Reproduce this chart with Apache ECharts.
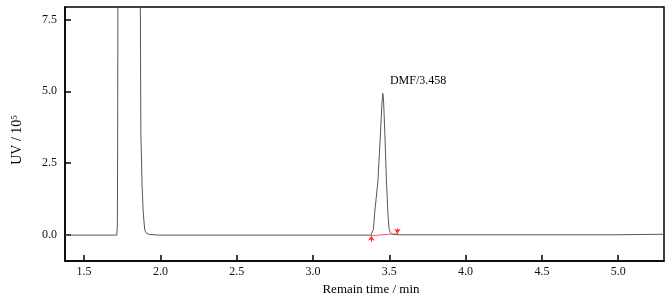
<!DOCTYPE html>
<html>
<head>
<meta charset="utf-8">
<script src="https://cdn.jsdelivr.net/npm/echarts@6/dist/echarts.min.js"></script>
<style>html,body{margin:0;padding:0;background:#fff}#c{width:671px;height:302px}</style>
</head>
<body>
<div id="c"></div>
<script>
// Chromatogram trace: retention time (min) and UV signal (x10^5)
const timeMin = [1.375, 1.70, 1.714, 1.718, 1.720, 1.722, 1.75, 1.80, 1.85, 1.868, 1.872, 1.880, 1.887, 1.892, 1.898, 1.910, 1.930, 2.00, 2.40, 2.80, 3.20, 3.380, 3.389, 3.396, 3.404, 3.426, 3.443, 3.452, 3.458, 3.463, 3.470, 3.481, 3.491, 3.498, 3.507, 3.524, 3.60, 4.00, 4.50, 4.98, 4.985, 5.30];
const uvSignal = [0.00, 0.00, 0.00, 0.30, 3.20, 9.00, 16.0, 20.0, 16.0, 9.00, 3.60, 1.75, 0.87, 0.50, 0.17, 0.06, 0.02, 0.00, 0.00, 0.00, 0.00, 0.00, 0.00, 0.20, 0.76, 1.91, 3.65, 4.60, 4.93, 4.60, 3.65, 1.91, 0.76, 0.24, 0.08, 0.02, 0.01, 0.01, 0.01, 0.01, 0.03, 0.03];
// Integration baseline of the DMF peak (start, end)
const integTime = [3.382, 3.553];
const integUV = [-0.02, 0.05];
const peakName = 'DMF';
const peakTime = 3.458;
const peakUV = 4.93;
const xTicks = [1.5, 2.0, 2.5, 3.0, 3.5, 4.0, 4.5, 5.0];
const yTicks = [0.0, 2.5, 5.0, 7.5];

const font = 'Liberation Serif';
const chart = echarts.init(document.getElementById('c'));
chart.setOption({
  animation: false,
  grid: {left: 65, right: 7, top: 7, bottom: 41, show: true, borderColor: '#000', borderWidth: 1.5},
  xAxis: {
    type: 'value', min: 1.375, max: 5.30,
    name: 'Remain time / min', nameLocation: 'middle', nameGap: 20,
    nameTextStyle: {fontFamily: font, fontSize: 13, color: '#000', padding: [0, 0, 0, 13]},
    axisLine: {show: true, onZero: false, lineStyle: {color: '#000', width: 1.5}},
    axisTick: {show: true, inside: true, length: 6, lineStyle: {color: '#000', width: 1.5}, customValues: xTicks},
    axisLabel: {fontFamily: font, fontSize: 12, color: '#111', margin: 5, customValues: xTicks, formatter: v => v.toFixed(1)},
    splitLine: {show: false}
  },
  yAxis: {
    type: 'value', min: -0.9, max: 7.93,
    name: 'UV / 10{sup|5}', nameLocation: 'middle', nameGap: 40, nameRotate: 90,
    nameTextStyle: {fontFamily: font, fontSize: 14, color: '#000', padding: [0, 12, 0, 0],
      rich: {sup: {fontFamily: font, fontSize: 9, verticalAlign: 'top', padding: [0, 0, 6, 0], color: '#000'}}},
    axisLine: {show: true, onZero: false, lineStyle: {color: '#000', width: 1.5}},
    axisTick: {show: true, inside: true, length: 6, lineStyle: {color: '#000', width: 1.5}, customValues: yTicks},
    axisLabel: {fontFamily: font, fontSize: 12, color: '#111', margin: 8, customValues: yTicks, formatter: v => v.toFixed(1)},
    splitLine: {show: false}
  },
  series: [
    {
      type: 'line', symbol: 'none', clip: true,
      lineStyle: {color: '#555', width: 1},
      data: timeMin.map((t, i) => [t, uvSignal[i]]),
      markPoint: {
        symbol: 'circle', symbolSize: 0,
        label: {show: true, position: [7, -18], fontFamily: font, fontSize: 12, color: '#000',
          formatter: peakName + '/' + peakTime.toFixed(3)},
        data: [{coord: [peakTime, peakUV]}]
      }
    },
    {
      type: 'line', symbol: 'none',
      lineStyle: {color: '#ff5a5a', width: 1},
      data: integTime.map((t, i) => [t, integUV[i]]),
      markLine: {
        silent: true, symbol: ['none', 'arrow'], symbolSize: [5, 5],
        lineStyle: {color: '#ff3030', width: 1, type: 'solid'},
        label: {show: false},
        data: [
          [{coord: [integTime[0], integUV[0] - 0.22]}, {coord: [integTime[0], integUV[0]]}],
          [{coord: [integTime[1], integUV[1] + 0.18]}, {coord: [integTime[1], integUV[1]]}]
        ]
      }
    }
  ]
});
</script>
</body>
</html>
